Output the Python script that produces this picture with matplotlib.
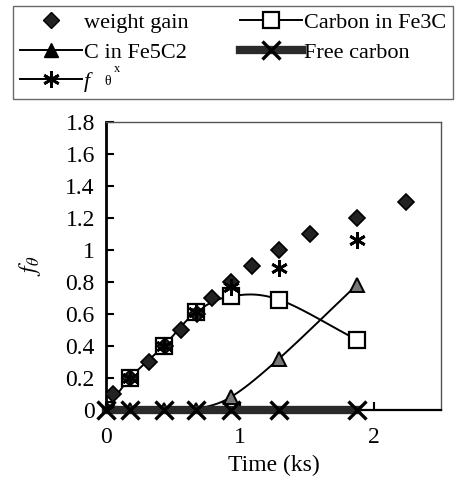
import numpy as np
import matplotlib
matplotlib.use("Agg")
import matplotlib.pyplot as plt
from matplotlib.lines import Line2D

plt.rcParams['font.family'] = ['Liberation Serif', 'DejaVu Serif']
plt.rcParams['mathtext.fontset'] = 'stix'

# weight gain
t_wg = [0, 0.05, 0.18, 0.32, 0.44, 0.56, 0.68, 0.79, 0.93, 1.09, 1.29, 1.52, 1.87, 2.24]
wg = [0, 0.1, 0.2, 0.3, 0.4, 0.5, 0.6, 0.7, 0.8, 0.9, 1.0, 1.1, 1.2, 1.3]

# sampling times for phases
t_ph = [0, 0.18, 0.43, 0.67, 0.93, 1.29, 1.87]
fe3c = [0, 0.2, 0.4, 0.61, 0.71, 0.69, 0.44]
fe5c2 = [0, 0, 0, 0, 0.08, 0.32, 0.78]
free_c = [0, 0, 0, 0, 0, 0, 0]
f_theta = [0, 0.2, 0.4, 0.61, 0.77, 0.89, 1.06]


def smooth(x, y, n=20):
    # catmull-rom curve through the points (like excel smoothed lines)
    x = np.asarray(x, float)
    y = np.asarray(y, float)
    px = np.concatenate([[2 * x[0] - x[1]], x, [2 * x[-1] - x[-2]]])
    py = np.concatenate([[2 * y[0] - y[1]], y, [2 * y[-1] - y[-2]]])
    xs, ys = [], []
    s = np.linspace(0, 1, n)
    for i in range(1, len(px) - 2):
        for p, out in ((px, xs), (py, ys)):
            p0, p1, p2, p3 = p[i - 1], p[i], p[i + 1], p[i + 2]
            out.extend(0.5 * (2 * p1 + (-p0 + p2) * s
                              + (2 * p0 - 5 * p1 + 4 * p2 - p3) * s ** 2
                              + (-p0 + 3 * p1 - 3 * p2 + p3) * s ** 3))
    return xs, ys


fig = plt.figure(figsize=(4.6, 4.82), dpi=100)
ax = fig.add_axes([0.2304, 0.1494, 0.7283, 0.5975])

sx, sy = smooth(t_ph, fe3c)
ax.plot(sx, sy, color='black', lw=1.4, zorder=3)
ax.plot(t_ph, fe3c, ls='none', marker='s', ms=11, mfc='white', mec='black', mew=1.6, zorder=4)

sx, sy = smooth(t_ph[3:], fe5c2[3:])
ax.plot(sx, sy, color='black', lw=1.4, zorder=3)
ax.plot(t_ph, fe5c2, ls='none', marker='^', ms=10, mfc='#777777', mec='black', mew=1.4, zorder=4)

ax.plot(t_wg, wg, ls='none', marker='D', ms=8.5, mfc='#222222', mec='black', mew=1.2, zorder=5)

ax.plot(t_ph, free_c, color='#2a2a2a', lw=6, zorder=6, clip_on=False)
ax.plot(t_ph, free_c, ls='none', marker='x', ms=13, mew=2.4, color='black', zorder=7, clip_on=False)

ax.plot(t_ph, f_theta, ls='none', marker=(6, 2, 0), ms=12, mew=2, color='black', zorder=8)

ax.set_xlim(0, 2.5)
ax.set_ylim(0, 1.8)
ax.set_xticks([0, 1, 2])
ax.set_yticks(np.arange(0, 1.81, 0.2))
ax.yaxis.set_major_formatter(matplotlib.ticker.FormatStrFormatter('%g'))
ax.tick_params(direction='in', length=6, width=1.5, labelsize=17)
ax.tick_params(axis='x', pad=12)
ax.tick_params(axis='y', pad=8)
ax.spines['left'].set_linewidth(2)
ax.spines['bottom'].set_linewidth(1.6)
for s in ('top', 'right'):
    ax.spines[s].set_linewidth(1)
    ax.spines[s].set_color('#555555')

ax.set_xlabel('Time (ks)', fontsize=17, labelpad=5)
ax.set_ylabel(r'$f_{\theta}$', fontsize=17, labelpad=16)

h_wg = Line2D([], [], ls='none', marker='D', ms=8.5, mfc='#222222', mec='black')
h_fe3c = Line2D([], [], color='black', lw=1.4, marker='s', ms=11, mfc='white', mec='black', mew=1.6)
h_fe5c2 = Line2D([], [], color='black', lw=1.4, marker='^', ms=10, mfc='black', mec='black')
h_free = Line2D([], [], color='#2a2a2a', lw=6, marker='x', ms=13, mew=2.4, mec='black')
h_ft = Line2D([], [], color='black', lw=1.4, marker=(6, 2, 0), ms=12, mew=2, mec='black')

leg = fig.legend([h_wg, h_fe5c2, h_ft, h_fe3c, h_free],
                 ['weight gain', 'C in Fe5C2', 'f',
                  'Carbon in Fe3C', 'Free carbon'],
                 ncol=2, loc='upper left',
                 bbox_to_anchor=(13 / 460, 1 - 6 / 482),
                 fontsize=16, frameon=True, fancybox=False, edgecolor='#444444',
                 handlelength=2.8, handletextpad=0.1, labelspacing=0.4,
                 borderpad=0.3, columnspacing=2.3, borderaxespad=0)
leg.get_frame().set_linewidth(1)
leg.get_texts()[2].set_style('italic')

# the theta and stray x next to f in the legend
fig.text(108 / 460, 1 - 81 / 482, 'θ', fontsize=10, ha='center', va='center', zorder=10)
fig.text(117 / 460, 1 - 69.5 / 482, 'x', fontsize=9, ha='center', va='center', zorder=10)

fig.savefig('out.png', dpi=100)
